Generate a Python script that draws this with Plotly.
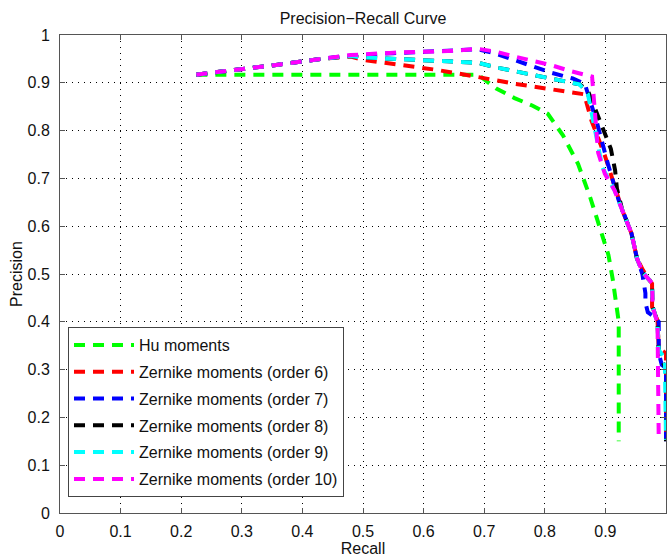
import plotly.graph_objects as go

# ---- data ----
series_names = [
    "Hu moments",
    "Zernike moments (order 6)",
    "Zernike moments (order 7)",
    "Zernike moments (order 8)",
    "Zernike moments (order 9)",
    "Zernike moments (order 10)",
]
series_colors = ["#00ff00", "#ff0000", "#0000ff", "#000000", "#00ffff", "#ff00ff"]

hu_recall = [0.225, 0.69, 0.72, 0.75, 0.78, 0.805, 0.83, 0.855, 0.875, 0.895, 0.905, 0.912, 0.918, 0.922, 0.922]
hu_precision = [0.917, 0.917, 0.888, 0.868, 0.852, 0.835, 0.79, 0.73, 0.66, 0.58, 0.54, 0.49, 0.44, 0.40, 0.15]

z6_recall = [0.225, 0.30, 0.36, 0.43, 0.48, 0.50, 0.556, 0.622, 0.686, 0.75, 0.813, 0.865, 0.877, 0.888, 0.899,
             0.915, 0.928, 0.943, 0.952, 0.962, 0.977, 0.977, 0.986, 0.988, 1.0, 1.0]
z6_precision = [0.917, 0.928, 0.938, 0.95, 0.955, 0.948, 0.938, 0.927, 0.913, 0.898, 0.886, 0.876, 0.821, 0.786, 0.748,
                0.685, 0.633, 0.585, 0.533, 0.508, 0.48, 0.431, 0.403, 0.345, 0.334, 0.15]

z7_recall = [0.225, 0.30, 0.36, 0.43, 0.48, 0.55, 0.60, 0.65, 0.69, 0.717, 0.75, 0.78, 0.811, 0.846, 0.866, 0.886,
             0.904, 0.922, 0.932, 0.943, 0.952, 0.961, 0.966, 0.966, 0.970, 0.981, 0.988, 0.988, 0.993, 1.0, 1.0]
z7_precision = [0.917, 0.928, 0.938, 0.95, 0.957, 0.962, 0.965, 0.967, 0.970, 0.962, 0.948, 0.936, 0.921, 0.909, 0.898, 0.817,
                0.731, 0.654, 0.619, 0.585, 0.533, 0.50, 0.46, 0.44, 0.42, 0.41, 0.40, 0.335, 0.31, 0.303, 0.15]

z8_recall = [0.225, 0.30, 0.36, 0.43, 0.48, 0.50, 0.55, 0.62, 0.69, 0.72, 0.78, 0.813, 0.857, 0.871, 0.882, 0.895,
             0.909, 0.916, 0.919, 0.928, 0.943, 0.952, 0.961, 0.977, 0.978, 0.986, 0.988, 1.0, 1.0]
z8_precision = [0.917, 0.928, 0.938, 0.95, 0.956, 0.953, 0.950, 0.946, 0.942, 0.932, 0.917, 0.908, 0.897, 0.884, 0.846, 0.807,
                0.762, 0.717, 0.679, 0.633, 0.585, 0.533, 0.504, 0.481, 0.431, 0.40, 0.335, 0.30, 0.15]

z9_recall = [0.225, 0.30, 0.36, 0.43, 0.48, 0.50, 0.55, 0.62, 0.69, 0.72, 0.78, 0.813, 0.857, 0.871, 0.879, 0.888,
             0.895, 0.915, 0.928, 0.943, 0.952, 0.961, 0.977, 0.978, 0.986, 0.988, 0.998, 1.0]
z9_precision = [0.917, 0.928, 0.938, 0.95, 0.956, 0.953, 0.950, 0.946, 0.942, 0.932, 0.917, 0.908, 0.897, 0.877, 0.825, 0.763,
                0.723, 0.675, 0.633, 0.585, 0.533, 0.504, 0.481, 0.431, 0.397, 0.341, 0.324, 0.153]

z10_recall = [0.225, 0.30, 0.36, 0.43, 0.48, 0.55, 0.60, 0.65, 0.69, 0.72, 0.75, 0.78, 0.813, 0.841, 0.878, 0.882,
              0.888, 0.899, 0.915, 0.928, 0.943, 0.952, 0.961, 0.977, 0.978, 0.986, 0.988]
z10_precision = [0.917, 0.928, 0.938, 0.95, 0.958, 0.963, 0.965, 0.967, 0.971, 0.965, 0.955, 0.946, 0.936, 0.925, 0.913, 0.85,
                 0.754, 0.71, 0.675, 0.633, 0.585, 0.533, 0.504, 0.481, 0.431, 0.397, 0.153]

all_recall = [hu_recall, z6_recall, z7_recall, z8_recall, z9_recall, z10_recall]
all_precision = [hu_precision, z6_precision, z7_precision, z8_precision, z9_precision, z10_precision]

tick_vals = [0, 0.1, 0.2, 0.3, 0.4, 0.5, 0.6, 0.7, 0.8, 0.9, 1]
tick_text = ["0", "0.1", "0.2", "0.3", "0.4", "0.5", "0.6", "0.7", "0.8", "0.9", "1"]

FONT = "Liberation Sans, Arial, sans-serif"

fig = go.Figure()
for name, color, xs, ys in zip(series_names, series_colors, all_recall, all_precision):
    fig.add_trace(go.Scatter(
        x=xs, y=ys, mode="lines", name=name, legendgroup=name,
        line=dict(color=color, width=4, dash="11px,8px"),
        cliponaxis=True,
    ))

axis_common = dict(
    range=[0, 1],
    tickvals=tick_vals,
    ticktext=tick_text,
    showgrid=True,
    gridcolor="#000000",
    gridwidth=1,
    griddash="1px,5px",
    zeroline=False,
    showline=True,
    linecolor="#555555",
    linewidth=1,
    mirror="allticks",
    ticks="inside",
    ticklen=5,
    tickcolor="#555555",
    tickfont=dict(family=FONT, size=16, color="#111111"),
)

fig.update_layout(
    width=668,
    height=559,
    margin=dict(l=60, r=2, t=35, b=46),
    paper_bgcolor="white",
    plot_bgcolor="white",
    title=dict(
        text="Precision\u2212Recall Curve",
        x=0.5, xref="paper", xanchor="center",
        y=1 - 18 / 559, yref="container", yanchor="middle",
        font=dict(family=FONT, size=16, color="#111111"),
    ),
    xaxis=dict(
        **axis_common,
        title=dict(text="Recall", font=dict(family=FONT, size=16, color="#111111"), standoff=3),
        ticklabelstandoff=4,
    ),
    yaxis=dict(
        **axis_common,
        title=dict(text="Precision", font=dict(family=FONT, size=16, color="#111111"), standoff=0),
        ticklabelstandoff=6,
    ),
    legend=dict(
        x=(68 - 60) / 606, y=(513 - 497) / 478,
        xanchor="left", yanchor="bottom",
        bgcolor="white",
        bordercolor="#444444",
        borderwidth=1,
        font=dict(family=FONT, size=16, color="#111111"),
        tracegroupgap=3,
        itemwidth=60,
    ),
    showlegend=True,
)

fig.write_html("out.html")
